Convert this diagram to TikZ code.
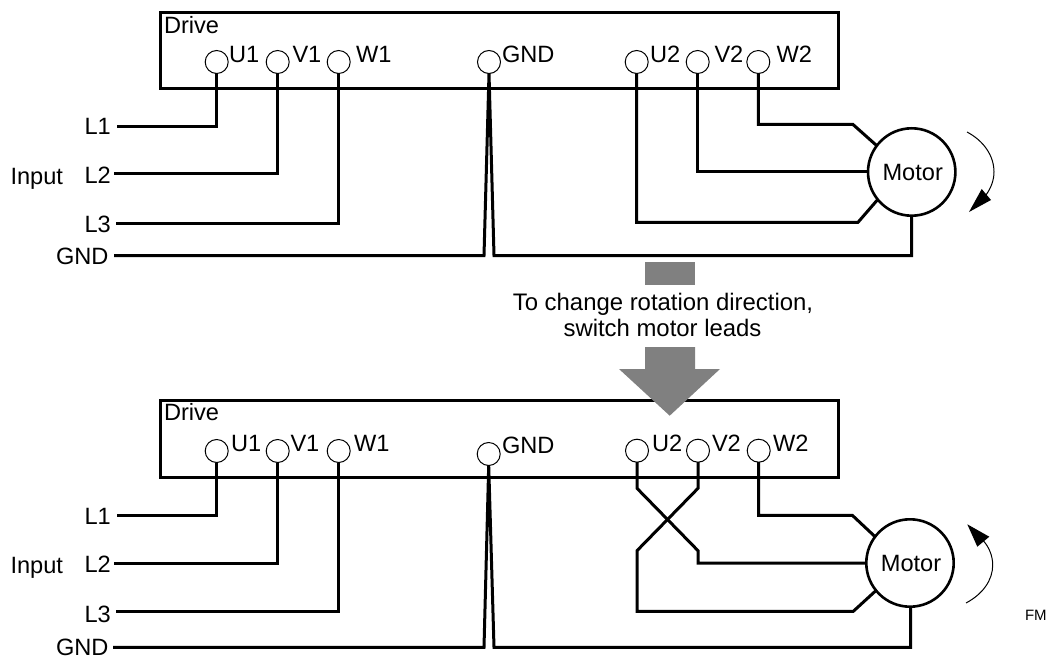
\documentclass[tikz,border=0pt]{standalone}
\usepackage{fontspec}
\setmainfont{Liberation Sans}
\begin{document}
\begin{tikzpicture}[x=1pt,y=-1pt,
  wire/.style={line width=3pt,line cap=butt,line join=miter},
  box/.style={draw,line width=3pt,rectangle,inner sep=0pt,outer sep=0pt,minimum width=678pt},
  term/.style={draw,line width=1pt,circle,inner sep=0pt,outer sep=0pt,minimum size=23pt},
  motor/.style={draw,line width=2.6pt,circle,inner sep=0pt,outer sep=0pt,minimum size=87.4pt,font=\fontsize{23.6}{26}\selectfont},
  lab/.style={anchor=base west,inner sep=0pt,outer sep=0pt,yshift=-0.7pt,font=\fontsize{23.6}{26}\selectfont},
  capt/.style={anchor=base,inner sep=0pt,outer sep=0pt,font=\fontsize{23.9}{26}\selectfont},
  small/.style={anchor=base west,inner sep=0pt,outer sep=0pt,font=\fontsize{15}{18}\selectfont},
  rot/.style={line width=1pt},
  head/.style={fill=black},
  bigarrow/.style={fill=gray50}]
\definecolor{gray50}{HTML}{808080}
\useasboundingbox (0,0) rectangle (1058,658);
% ---------- top drive
\node[box,minimum height=76.7pt] (boxa) at (499,50.6) {};
\node[lab] (drivea) at (164,33.3) {Drive};
\node[term] (ua1) at (216.7,62) {};
\node[term] (va1) at (277.7,62) {};
\node[term] (wa1) at (338.7,62) {};
\node[term] (ga) at (489,62) {};
\node[term] (ua2) at (636.7,62) {};
\node[term] (va2) at (697.7,62) {};
\node[term] (wa2) at (758.3,62) {};
\node[lab] (ua1t) at (229,61.7) {U1};
\node[lab] (va1t) at (292.5,61.7) {V1};
\node[lab] (wa1t) at (356,61.7) {W1};
\node[lab] (gat) at (502,62) {GND};
\node[lab] (ua2t) at (650,61.7) {U2};
\node[lab] (va2t) at (714.5,61.7) {V2};
\node[lab] (wa2t) at (776.5,61.7) {W2};
\node[lab] (l1a) at (84.5,134.3) {L1};
\node[lab] (l2a) at (84.5,182.7) {L2};
\node[lab] (l3a) at (84.5,232.3) {L3};
\node[lab] (gnda) at (56,264) {GND};
\node[lab] (ina) at (10.5,184) {Input};
\node[motor] (ma) at (911.7,172) {\hspace{2pt}Motor};
\coordinate (l1aw) at (117,126.3);
\coordinate (l2aw) at (114,174);
\coordinate (l3aw) at (116,223);
\coordinate (gaw) at (114,255.5);
\coordinate (gab1) at (484,255.5);
\coordinate (gab2) at (494,255.5);
\coordinate (wab) at (853,124.5);
\coordinate (uab) at (858,222.3);
\coordinate (mgab) at (911.7,255.5);
\draw[wire] (l1aw) -| (ua1.south);
\draw[wire] (l2aw) -| (va1.south);
\draw[wire] (l3aw) -| (wa1.south);
\draw[wire] (gaw) -- (gab1) -- (ga.south) -- (gab2) -- (mgab) -- (ma.south);
\draw[wire] (wa2.south) |- (wab) -- (ma.143);
\draw[wire] (va2.south) |- (ma.west);
\draw[wire] (ua2.south) |- (uab) -- (ma.219);
% rotation arrow top
\coordinate (rota1) at (967,132);
\coordinate (rota2) at (994,172);
\coordinate (rota3) at (986,195);
\draw[rot] (rota1) .. controls (984,141) and (994,156) .. (rota2) .. controls (994,180) and (991,188) .. (rota3);
\fill[head] (969,212) -- (981.7,189) -- (991,200) -- cycle;
% ---------- caption
\node[capt] (capa) at (663,310) {To change rotation direction,};
\node[capt] (capb) at (662.5,336.7) {switch motor leads};
\fill[bigarrow] (645,262) rectangle (695,284.7);
% ---------- bottom drive
\node[box,minimum height=77.3pt] (boxb) at (499,438.7) {};
\node[lab] (driveb) at (164,420) {Drive};
\node[term] (ub1) at (216.7,451) {};
\node[term] (vb1) at (277.7,451) {};
\node[term] (wb1) at (338.7,451) {};
\node[term] (gb) at (488.7,454) {};
\node[term] (ub2) at (637,450.7) {};
\node[term] (vb2) at (698,450.7) {};
\node[term] (wb2) at (758.7,450.7) {};
\node[lab] (ub1t) at (231,451) {U1};
\node[lab] (vb1t) at (290.5,451) {V1};
\node[lab] (wb1t) at (354,451) {W1};
\node[lab] (gbt) at (502,452.7) {GND};
\node[lab] (ub2t) at (652,450.7) {U2};
\node[lab] (vb2t) at (712,450.7) {V2};
\node[lab] (wb2t) at (773,450.7) {W2};
\node[lab] (l1b) at (84.5,523.3) {L1};
\node[lab] (l2b) at (84.5,571.7) {L2};
\node[lab] (l3b) at (84.5,621.7) {L3};
\node[lab] (gndb) at (56,654.3) {GND};
\node[lab] (inb) at (10.5,572.7) {Input};
\node[motor] (mb) at (910,563) {\hspace{2pt}Motor};
\node[small] (fm) at (1025,620) {FM};
\coordinate (l1bw) at (117,515.3);
\coordinate (l2bw) at (114,563.3);
\coordinate (l3bw) at (116,611);
\coordinate (gbw) at (113,647.3);
\coordinate (gbb1) at (484,647.3);
\coordinate (gbb2) at (494,647.3);
\coordinate (wbb) at (852.3,515.3);
\coordinate (ubx) at (637,488.3);
\coordinate (uby) at (698,550.7);
\coordinate (vbx) at (698,488.3);
\coordinate (vby) at (637,550.7);
\coordinate (vbb) at (853.3,611.3);
\coordinate (mgbb) at (910.7,647.3);
\draw[wire] (l1bw) -| (ub1.south);
\draw[wire] (l2bw) -| (vb1.south);
\draw[wire] (l3bw) -| (wb1.south);
\draw[wire] (gbw) -- (gbb1) -- (gb.south) -- (gbb2) -- (mgbb) -- (mgbb |- mb.south);
\draw[wire] (wb2.south) |- (wbb) -- (mb.143);
\draw[wire] (ub2.south) -- (ubx) -- (uby) |- (mb.west);
\draw[wire] (vb2.south) -- (vbx) -- (vby) |- (vbb) -- (mb.219);
% rotation arrow bottom
\coordinate (rotb1) at (966,603);
\coordinate (rotb2) at (992.7,565);
\coordinate (rotb3) at (983.5,541);
\draw[rot] (rotb1) .. controls (983,594) and (992.7,580) .. (rotb2) .. controls (992.7,556) and (989,547) .. (rotb3);
\fill[head] (967.3,524.3) -- (989.3,536.7) -- (977.3,546.7) -- cycle;
% big arrow over the box edge
\fill[bigarrow] (645,347) -- (695,347) -- (695,369) -- (720,369) -- (669.7,415.7) -- (619,369) -- (645,369) -- cycle;
\end{tikzpicture}
\end{document}
